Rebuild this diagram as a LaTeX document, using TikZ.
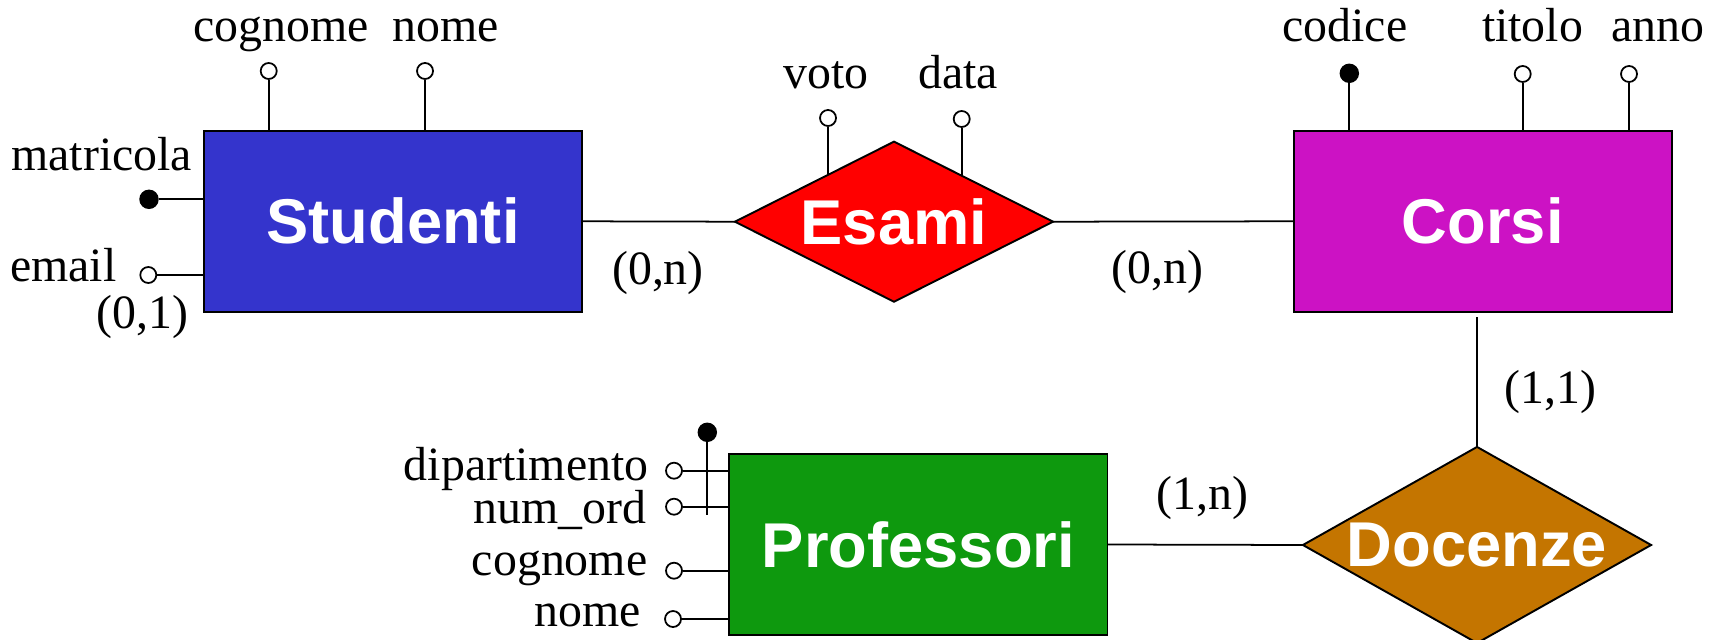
\documentclass[tikz,border=0pt]{standalone}
\usepackage{fontspec}
\setmainfont{Liberation Serif}
\newfontfamily\entfont{Liberation Sans}
\usepackage{xcolor}
\definecolor{studblue}{RGB}{52, 52, 204}
\definecolor{esamired}{RGB}{255, 0, 0}
\definecolor{corsimag}{RGB}{204, 18, 196}
\definecolor{profgreen}{RGB}{14, 153, 14}
\definecolor{docbrown}{RGB}{196, 117, 0}
\usepackage{tikz}
\usetikzlibrary{shapes.geometric, positioning}

\begin{document}
\begin{tikzpicture}[x=0.01cm, y=-0.01cm,
        entitybox/.style={rectangle, draw=black, line width=0.55pt, minimum width=3.78cm, minimum height=1.81cm, inner sep=0pt, outer sep=0pt, text=white, font=\entfont\bfseries\fontsize{18}{20}\selectfont},
        relbox/.style={diamond, draw=black, line width=0.55pt, inner sep=0pt, outer sep=0pt, aspect=1.8, text=white, font=\entfont\bfseries\fontsize{18}{20}\selectfont},
        attr/.style={circle, draw=black, fill=white, line width=0.5pt, inner sep=0pt, minimum size=0.16cm},
        keyattr/.style={circle, draw=black, fill=black, inner sep=0pt, minimum size=0.18cm},
        lbl/.style={inner sep=0pt, font=\fontsize{13.6}{16}\selectfont},
        line/.style={draw=black, line width=0.5pt}]
    \useasboundingbox (0,0) rectangle (1719,640);

    % entita' e relazioni
    \node [entitybox, fill=studblue] (studenti) at (393,221.3) {Studenti};
    \node [relbox, fill=esamired, minimum width=3.18cm, minimum height=1.6cm] (esami) at (894,221.7) {Esami};
    \node [entitybox, fill=corsimag] (corsi) at (1482.7,221.3) {Corsi};
    \node [entitybox, fill=profgreen] (prof) at (918.4,544.5) {Professori};
    \node [relbox, fill=docbrown, minimum width=3.48cm, minimum height=1.96cm] (docenze) at (1477,545) {Docenze};

    \path [line] (studenti.east) -- (esami.west);
    \path [line] (esami.east) -- (corsi.west);
    \path [line] (prof.east) -- (docenze.west);
    \path [line, shorten >=0.05cm] (docenze.north) -- (docenze.north |- corsi.south);

    % cardinalita'
    \node [lbl] (cStEs) at (658,272.5) {(0,n)};
    \node [lbl] (cCoEs) at (1157.5,272) {(0,n)};
    \node [lbl] (cPrDo) at (1202.5,497.5) {(1,n)};
    \node [lbl] (cCoDo) at (1550.6,391.5) {(1,1)};

    % attributi di Studenti
    \node [attr] (sCog) at (268.7,71) {};
    \node [attr] (sNome) at (425,71) {};
    \node [keyattr] (sMatr) at (149,199.3) {};
    \node [attr] (sEmail) at (148.3,275) {};
    \path [line] (sCog) -- (sCog |- studenti.north);
    \path [line] (sNome) -- (sNome |- studenti.north);
    \path [line] (sMatr) -- (sMatr -| studenti.west);
    \path [line] (sEmail) -- (sEmail -| studenti.west);
    \node [lbl, anchor=base] (sCogL) at (281,42) {cognome};
    \node [lbl, anchor=base] (sNomeL) at (445.7,42) {nome};
    \node [lbl, anchor=base east] (sMatrL) at (192.7,171) {matricola};
    \node [lbl, anchor=base east] (sEmailL) at (117,281.7) {email};
    \node [lbl, anchor=base east] (sEmailC) at (189,328) {(0,1)};

    % attributi di Esami
    \node [attr] (eVoto) at (828,118) {};
    \node [attr] (eData) at (961.7,119) {};
    \path [line] (eVoto) -- (eVoto |- esami.144.7);
    \path [line] (eData) -- (eData |- esami.34.1);
    \node [lbl, anchor=base] (eVotoL) at (826,89) {voto};
    \node [lbl, anchor=base] (eDataL) at (958,89) {data};

    % attributi di Corsi
    \node [keyattr] (cCod) at (1349.3,73.3) {};
    \node [attr] (cTit) at (1522.7,74) {};
    \node [attr] (cAnno) at (1629,74) {};
    \path [line] (cCod) -- (cCod |- corsi.north);
    \path [line] (cTit) -- (cTit |- corsi.north);
    \path [line] (cAnno) -- (cAnno |- corsi.north);
    \node [lbl, anchor=base] (cCodL) at (1345,41.7) {codice};
    \node [lbl, anchor=base] (cTitL) at (1532.5,41.7) {titolo};
    \node [lbl, anchor=base] (cAnnoL) at (1658,41.7) {anno};

    % attributi di Professori
    \node [attr] (pDip) at (674,470.7) {};
    \node [attr] (pNum) at (674,506.7) {};
    \node [attr] (pCog) at (674,570.7) {};
    \node [attr] (pNome) at (673,619) {};
    \path [line] (pDip) -- (pDip -| prof.west);
    \path [line] (pNum) -- (pNum -| prof.west);
    \path [line] (pCog) -- (pCog -| prof.west);
    \path [line] (pNome) -- (pNome -| prof.west);
    \node [keyattr] (pKey) at (707.3,432.3) {};
    \coordinate (pKeyEnd) at (707.3,515);
    \path [line] (pKey) -- (pKeyEnd);
    \node [lbl, anchor=base east] (pDipL) at (649,480) {dipartimento};
    \node [lbl, anchor=base east] (pNumL) at (646.7,523.3) {num\_ord};
    \node [lbl, anchor=base east] (pCogL) at (648,575) {cognome};
    \node [lbl, anchor=base east] (pNomeL) at (641.7,626.7) {nome};
\end{tikzpicture}
\end{document}
